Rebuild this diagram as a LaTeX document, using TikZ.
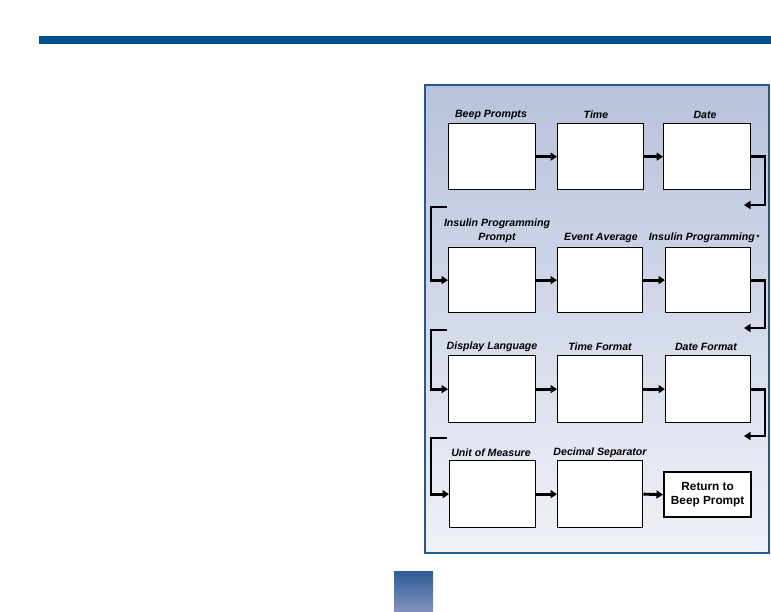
\documentclass[tikz,border=0pt]{standalone}
\usepackage{fontspec}
\setmainfont{Liberation Sans}
\usetikzlibrary{arrows.meta}
\definecolor{barblue}{HTML}{00538A}
\definecolor{panelborder}{HTML}{1F5A94}
\definecolor{gtop}{HTML}{B8C2DC}
\definecolor{gbot}{HTML}{F0F1F7}
\definecolor{sqtop}{HTML}{2D5C96}
\definecolor{sqbot}{HTML}{8393BF}
\begin{document}
\begin{tikzpicture}[x=1pt,y=-1pt,
  scr/.style={draw=black,line width=1.3pt,fill=white,inner sep=0pt,anchor=north west},
  lbl/.style={font=\fontsize{10.6}{13.5}\selectfont\bfseries\itshape,inner sep=0pt,anchor=center,align=center},
  flow/.style={line width=2.9pt,-{Triangle[length=6.5pt,width=8pt]}}]
\useasboundingbox (0,0) rectangle (771,612);
% top bar
\fill[barblue] (39,36) rectangle (771,44);
% panel
\shade[top color=gtop,bottom color=gbot] (425,85) rectangle (769,553);
\draw[panelborder,line width=2pt] (425,85) rectangle (769,553);
% bottom square
\shade[top color=sqtop,bottom color=sqbot] (394,571) rectangle (433,612);
% row 1
\node[scr,minimum width=87pt,minimum height=66pt] (b1) at (448,123) {};
\node[scr,minimum width=86pt,minimum height=66pt] (b2) at (557,123) {};
\node[scr,minimum width=87pt,minimum height=66pt] (b3) at (663,123) {};
\node[lbl] (t1) at (491,115) {Beep Prompts};
\node[lbl] (t2) at (596,115) {Time};
\node[lbl] (t3) at (705,115) {Date};
% row 2
\node[scr,minimum width=87pt,minimum height=65pt] (b4) at (448,247) {};
\node[scr,minimum width=85pt,minimum height=65pt] (b5) at (557,247) {};
\node[scr,minimum width=85pt,minimum height=65pt] (b6) at (665,247) {};
\node[lbl] (t4) at (497,231) {Insulin Programming\\Prompt};
\node[lbl] (t5) at (601,238) {Event Average};
\node[lbl] (t6) at (704,238) {Insulin Programming{\fontsize{8}{8}\selectfont\,*}};
% row 3
\node[scr,minimum width=87pt,minimum height=67pt] (b7) at (448,355) {};
\node[scr,minimum width=85pt,minimum height=67pt] (b8) at (557,355) {};
\node[scr,minimum width=85pt,minimum height=67pt] (b9) at (665,355) {};
\node[lbl] (t7) at (492,347) {Display Language};
\node[lbl] (t8) at (600,347) {Time Format};
\node[lbl] (t9) at (706,347) {Date Format};
% row 4
\node[scr,minimum width=86pt,minimum height=67pt] (b10) at (449,460) {};
\node[scr,minimum width=85pt,minimum height=67pt] (b11) at (557,460) {};
\node[scr,line width=2.3pt,minimum width=87pt,minimum height=45pt,
      font=\fontsize{11.8}{14.5}\selectfont\bfseries,align=center] (ret) at (663,471) {Return to\\Beep Prompt};
\node[lbl] (t10) at (491,453) {Unit of Measure};
\node[lbl] (t11) at (600,453) {Decimal Separator};
% straight connectors
\draw[flow] (b1.east) -- (b2.west);
\draw[flow] (b2.east) -- (b3.west);
\draw[flow] (b4.east) -- (b5.west);
\draw[flow] (b5.east) -- (b6.west);
\draw[flow] (b7.east) -- (b8.west);
\draw[flow] (b8.east) -- (b9.west);
\draw[flow] (b10.east) -- (b11.west);
\draw[flow] (b11.east) -- (ret.west);
% wrap connectors
\coordinate (r1a) at (765,205); \coordinate (r1b) at (744,205);
\coordinate (l1a) at (447,207); \coordinate (l1b) at (431,207);
\coordinate (r2a) at (765,328); \coordinate (r2b) at (744,328);
\coordinate (l2a) at (447,330); \coordinate (l2b) at (431,330);
\coordinate (r3a) at (765,436); \coordinate (r3b) at (744,436);
\coordinate (l3a) at (447,438); \coordinate (l3b) at (431,438);
\draw[flow] (b3.east) -| (r1a) -- (r1b);
\draw[flow] (l1a) -- (l1b) |- (b4.west);
\draw[flow] (b6.east) -| (r2a) -- (r2b);
\draw[flow] (l2a) -- (l2b) |- (b7.west);
\draw[flow] (b9.east) -| (r3a) -- (r3b);
\draw[flow] (l3a) -- (l3b) |- (b10.west);
\end{tikzpicture}
\end{document}
